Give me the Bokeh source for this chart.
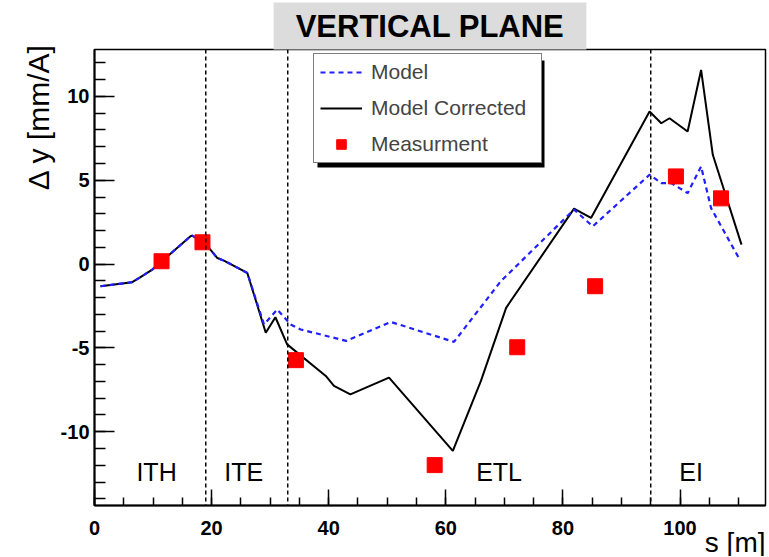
from bokeh.plotting import figure
from bokeh.models import (Range1d, SingleIntervalTicker, Span, BoxAnnotation,
                          Legend, LegendItem, Title)
from bokeh.embed import file_html
from bokeh.resources import INLINE
from bokeh.core.properties import value

# ---- data ----
model_s = [1.02, 6.44, 7.86, 9.87, 16.4, 16.7, 18.98, 20.98, 22.1, 26.1, 28.95, 31.2, 33.5,
           35.2, 43.0, 50.6, 61.4, 69.4, 81.9, 85.1, 94.8, 96.8, 98.5, 101.3, 103.6, 105.3, 110.2]
model_dy = [-1.32, -1.08, -0.78, -0.33, 1.66, 1.70, 1.20, 0.36, 0.21, -0.53, -3.60, -2.71, -3.60,
            -3.90, -4.58, -3.45, -4.64, -1.02, 3.25, 2.25, 5.33, 4.83, 4.83, 4.23, 5.82, 3.34, 0.27]

corr_s = [1.02, 6.44, 7.86, 9.87, 16.4, 16.7, 18.98, 20.98, 22.1, 26.1, 29.25, 30.9, 32.9, 39.5,
          40.9, 43.7, 50.3, 61.2, 66.0, 70.3, 81.9, 84.8, 94.8, 96.8, 98.2, 101.3, 103.6, 105.6, 110.5]
corr_dy = [-1.32, -1.08, -0.78, -0.33, 1.66, 1.70, 1.20, 0.36, 0.21, -0.53, -4.10, -3.17, -4.79, -6.67,
           -7.27, -7.77, -6.77, -11.14, -6.97, -2.61, 3.31, 2.75, 9.10, 8.40, 8.70, 7.91, 11.58, 6.52, 1.16]

meas_s = [11.45, 18.44, 34.4, 58.1, 72.2, 85.5, 99.3, 107.0]
meas_dy = [0.17, 1.30, -5.73, -11.99, -4.96, -1.32, 5.23, 3.92]

boundary_s = [19, 33, 95]
region_names = ["ITH", "ITE", "ETL", "EI"]
region_s = [10.6, 25.5, 69.1, 101.9]
region_dy = [-12.4, -12.4, -12.4, -12.4]

y_ticks = [-10, -5, 0, 5, 10]
y_tick_labels = ["-10", "-5", "0", "5", "10"]

FONT = "Liberation Sans"

p = figure(width=768, height=556, output_backend="svg", toolbar_location=None,
           x_range=Range1d(0, 114.6), y_range=Range1d(-14.4, 12.8),
           min_border_left=94, min_border_right=3, min_border_top=48, min_border_bottom=51)
p.grid.visible = False
p.outline_line_color = "black"
p.outline_line_width = 1.5
p.background_fill_color = "white"
p.border_fill_color = "white"

# main title: grey box
p.add_layout(Title(text="VERTICAL PLANE", align="center", text_font=FONT,
                   text_font_size="31px", text_font_style="bold", text_color="black",
                   background_fill_color="#dcdcdc", padding=(22, 6), standoff=0), "above")

for ax, tin, tmin, stand in ((p.xaxis[0], 16, 8, 15), (p.yaxis[0], 20, 11, 5)):
    ax.major_tick_in = tin
    ax.major_tick_out = 0
    ax.minor_tick_in = tmin
    ax.minor_tick_out = 0
    ax.major_tick_line_width = 1.5
    ax.minor_tick_line_width = 1.5
    ax.axis_line_width = 2
    ax.axis_line_color = "black"
    ax.major_tick_line_color = "black"
    ax.minor_tick_line_color = "black"
    ax.major_label_text_font = FONT
    ax.major_label_text_font_size = "20px"
    ax.major_label_text_font_style = "bold"
    ax.major_label_text_color = "black"
    ax.major_label_standoff = stand
p.xaxis.ticker = SingleIntervalTicker(interval=20, num_minor_ticks=4)
p.yaxis.ticker = SingleIntervalTicker(interval=5, num_minor_ticks=5)
p.yaxis.major_label_overrides = dict(zip(y_ticks, y_tick_labels))

# axis titles
p.add_layout(Title(text="Δ y [mm/A]", align="right", text_font=FONT, text_font_size="30px",
                   text_font_style="normal", text_color="black", standoff=6,
                   offset=-6), "left")
p.add_layout(Title(text="s [m]", align="right", text_font=FONT, text_font_size="28px",
                   text_font_style="normal", text_color="black", standoff=-26), "below")

r_corr = p.line(corr_s, corr_dy, line_color="black", line_width=2)
r_model = p.line(model_s, model_dy, line_color="#1f1fff", line_width=2.2, line_dash="5 4")
r_meas = p.scatter(meas_s, meas_dy, marker="square", size=15, fill_color="#ff0000",
                   line_color="#ff0000")

p.text(x=region_s, y=region_dy, text=region_names, text_font=value(FONT),
       text_font_size=value("25px"), text_align="center", text_baseline="middle",
       text_color="black")

for s in boundary_s:
    p.add_layout(Span(location=s, dimension="height", line_color="black",
                      line_dash="4 3", line_width=1.5))

# legend shadow + legend
p.add_layout(BoxAnnotation(left=223, right=450, top=445, bottom=338,
                           left_units="screen", right_units="screen",
                           top_units="screen", bottom_units="screen",
                           fill_color="black", fill_alpha=1.0, line_alpha=0))
legend = Legend(items=[LegendItem(label="Model", renderers=[r_model]),
                       LegendItem(label="Model Corrected", renderers=[r_corr]),
                       LegendItem(label="Measurment", renderers=[r_meas])],
                location=(219, 342), orientation="vertical", padding=6, spacing=12, margin=0,
                glyph_width=42, glyph_height=24, label_height=24, label_width=164,
                label_standoff=9, label_text_font=FONT, label_text_font_size="21px",
                border_line_color="black", border_line_width=1.5,
                background_fill_color="white", background_fill_alpha=1.0)
p.add_layout(legend, "center")

open("out.html", "w").write(file_html(p, INLINE))
